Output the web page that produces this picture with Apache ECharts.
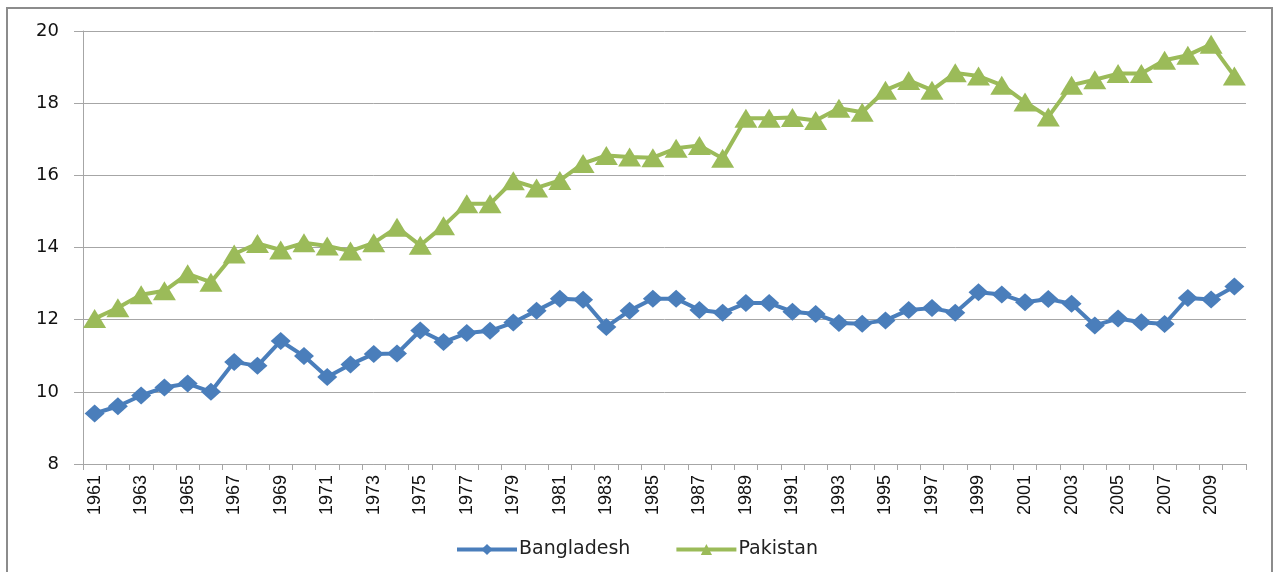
<!DOCTYPE html>
<html>
<head>
<meta charset="utf-8">
<script src="https://cdn.jsdelivr.net/npm/echarts@6/dist/echarts.min.js"></script>
<style>
  html, body { margin: 0; padding: 0; background: #fff; }
  #chart { width: 1277px; height: 572px; }
</style>
</head>
<body>
<div id="chart"></div>
<script>
// Years shown on the category axis
const years = [];
for (let y = 1961; y <= 2010; y++) years.push(String(y));

// Yearly values per country
const bangladesh = [
  9.40, 9.60, 9.90, 10.12, 10.23, 10.00, 10.83, 10.72, 11.41, 10.99,
  10.41, 10.76, 11.05, 11.06, 11.70, 11.38, 11.63, 11.69, 11.92, 12.25,
  12.58, 12.55, 11.80, 12.25, 12.58, 12.58, 12.27, 12.19, 12.46, 12.46,
  12.22, 12.16, 11.91, 11.89, 11.98, 12.27, 12.32, 12.19, 12.76, 12.70,
  12.48, 12.57, 12.44, 11.84, 12.03, 11.93, 11.88, 12.60, 12.56, 12.92
];
const pakistan = [
  12.03, 12.33, 12.69, 12.80, 13.27, 13.04, 13.82, 14.11, 13.93, 14.13,
  14.04, 13.90, 14.13, 14.56, 14.06, 14.60, 15.21, 15.21, 15.85, 15.65,
  15.86, 16.33, 16.55, 16.51, 16.49, 16.75, 16.83, 16.47, 17.58, 17.58,
  17.60, 17.52, 17.86, 17.75, 18.36, 18.63, 18.36, 18.84, 18.75, 18.50,
  18.03, 17.62, 18.50, 18.65, 18.82, 18.82, 19.19, 19.33, 19.63, 18.75
];

const chart = echarts.init(document.getElementById('chart'));
const gridColor = '#a6a6a6';

chart.setOption({
  animation: false,
  backgroundColor: '#fff',
  graphic: [{
    type: 'rect',
    shape: { x: 7, y: 8, width: 1265, height: 580 },
    style: { fill: 'none', stroke: '#8c8c8c', lineWidth: 2 },
    silent: true
  }],
  grid: { left: 83, right: 31, top: 31, bottom: 108 },
  legend: {
    left: 450,
    top: 535,
    itemWidth: 60,
    itemHeight: 14,
    itemGap: 44,
    lineStyle: { width: 4 },
    textStyle: { fontFamily: 'DejaVu Sans', fontSize: 19, color: '#222', padding: [0, 0, 0, -3] },
    data: ['Bangladesh', 'Pakistan']
  },
  xAxis: {
    type: 'category',
    data: years,
    boundaryGap: true,
    axisLine: { lineStyle: { color: gridColor, width: 1 } },
    axisTick: { show: true, interval: 0, length: 6, lineStyle: { color: gridColor } },
    axisLabel: {
      interval: 1,
      rotate: 90,
      margin: 11,
      fontFamily: 'Liberation Sans',
      fontSize: 18,
      color: '#111'
    },
    splitLine: { show: false }
  },
  yAxis: {
    type: 'value',
    min: 8,
    max: 20,
    interval: 2,
    axisLine: { show: true, lineStyle: { color: gridColor, width: 1 } },
    axisTick: { show: true, length: 9, lineStyle: { color: gridColor } },
    axisLabel: {
      margin: 24,
      fontFamily: 'DejaVu Sans',
      fontSize: 18,
      color: '#111'
    },
    splitLine: { show: true, lineStyle: { color: gridColor, width: 1 } }
  },
  series: [
    {
      name: 'Bangladesh',
      type: 'line',
      data: bangladesh,
      symbol: 'diamond',
      symbolSize: [20, 18],
      showAllSymbol: true,
      lineStyle: { color: '#4a7ebb', width: 4 },
      itemStyle: { color: '#4a7ebb' }
    },
    {
      name: 'Pakistan',
      type: 'line',
      data: pakistan,
      symbol: 'triangle',
      symbolSize: [23, 19],
      showAllSymbol: true,
      lineStyle: { color: '#9bbb59', width: 4 },
      itemStyle: { color: '#9bbb59' }
    }
  ]
});
</script>
</body>
</html>
